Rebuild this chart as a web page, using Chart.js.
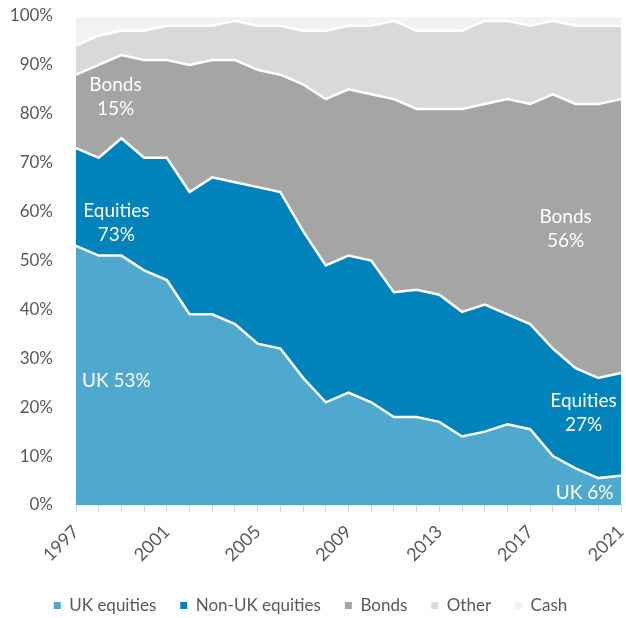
<!DOCTYPE html>
<html>
<head>
<meta charset="utf-8">
<script src="https://cdn.jsdelivr.net/npm/chart.js@4"></script>
<style>
  html, body { margin: 0; padding: 0; background: #fff; }
  #wrap { width: 626px; height: 618px; }
</style>
</head>
<body>
<div id="wrap"><canvas id="grafico"></canvas></div>
<script>
// ---------------------
// Data
// ---------------------
const years = ['1997','1998','1999','2000','2001','2002','2003','2004','2005','2006','2007','2008',
               '2009','2010','2011','2012','2013','2014','2015','2016','2017','2018','2019','2020','2021'];

const ukEquities    = [53, 51, 51, 48, 46, 39, 39, 37, 33, 32, 26, 21, 23, 21, 18, 18, 17, 14, 15, 16.5, 15.5, 10, 7.5, 5.5, 6];
const nonUkEquities = [20, 20, 24, 23, 25, 25, 28, 29, 32, 32, 30, 28, 28, 29, 25.5, 26, 26, 25.5, 26, 22.5, 21.5, 22, 20.5, 20.5, 21];
const bonds         = [15, 19, 17, 20, 20, 26, 24, 25, 24, 24, 30, 34, 34, 34, 39.5, 37, 38, 41.5, 41, 44, 45, 52, 54, 56, 56];
const other         = [6, 6, 5, 6, 7, 8, 7, 8, 9, 10, 11, 14, 13, 14, 16, 16, 16, 16, 17, 16, 16, 15, 16, 16, 15];
const cash          = [6, 4, 3, 3, 2, 2, 2, 1, 2, 2, 3, 3, 2, 2, 1, 3, 3, 3, 1, 1, 2, 1, 2, 2, 2];

const yTicks = [0, 10, 20, 30, 40, 50, 60, 70, 80, 90, 100];

// ---------------------
// In-chart labels (x = year index, y = percent)
// ---------------------
const rotulos = [
    { lines: ['Bonds', '15%'],    x: 1.74,  y: 83.5 },
    { lines: ['Equities', '73%'], x: 1.78,  y: 57.6 },
    { lines: ['UK 53%'],          x: 1.78,  y: 25.4 },
    { lines: ['Bonds', '56%'],    x: 21.56, y: 56.4 },
    { lines: ['Equities', '27%'], x: 22.35, y: 18.75 },
    { lines: ['UK 6%'],           x: 22.4,  y: 2.5 }
];

const CORES = ['#4FA8CD', '#0083BA', '#A5A5A5', '#D9D9D9', '#F2F2F2'];
const TEXTO = '#595959';

const rotulosPlugin = {
    id: 'rotulos',
    afterDatasetsDraw(chart) {
        const { ctx, scales: { x, y } } = chart;
        ctx.save();
        ctx.fillStyle = '#ffffff';
        ctx.font = '19px Lato';
        ctx.textBaseline = 'middle';
        ctx.textAlign = 'center';
        rotulos.forEach(r => {
            const px = x.getPixelForValue(r.x);
            const py = y.getPixelForValue(r.y);
            const lh = 24;
            const top = py - (r.lines.length - 1) * lh / 2;
            r.lines.forEach((t, i) => ctx.fillText(t, px, top + i * lh));
        });
        ctx.restore();
    }
};

// legenda um pouco mais baixa
const legendaPlugin = {
    id: 'legendaAjuste',
    beforeInit(chart) {
        const fitOriginal = chart.legend.fit;
        chart.legend.fit = function () {
            fitOriginal.bind(chart.legend)();
            this.height -= 6;
        };
    }
};

function serie(label, data, cor, fill) {
    return {
        label,
        data,
        backgroundColor: cor,
        borderColor: '#ffffff',
        borderWidth: 2.5,
        fill,
        pointRadius: 0,
        tension: 0
    };
}

new Chart(document.getElementById('grafico').getContext('2d'), {
    type: 'line',
    data: {
        labels: years,
        datasets: [
            serie('UK equities', ukEquities, CORES[0], 'origin'),
            serie('Non-UK equities', nonUkEquities, CORES[1], '-1'),
            serie('Bonds', bonds, CORES[2], '-1'),
            serie('Other', other, CORES[3], '-1'),
            serie('Cash', cash, CORES[4], '-1')
        ]
    },
    options: {
        responsive: true,
        maintainAspectRatio: false,
        animation: false,
        layout: { padding: { left: 0, right: 5, top: 16, bottom: 0 } },
        scales: {
            x: {
                offset: false,
                afterFit: axis => {
                    axis.height = 68;
                    axis.paddingLeft = 0;
                    axis.paddingRight = 0;
                },
                grid: { drawOnChartArea: false, drawTicks: true, tickLength: 7, color: '#D9D9D9' },
                border: { color: '#D9D9D9', width: 1.5 },
                ticks: {
                    autoSkip: false,
                    maxRotation: 45,
                    minRotation: 45,
                    color: TEXTO,
                    font: { family: 'Lato', size: 18 },
                    padding: 9,
                    callback: (v, i) => (i % 4 === 0 ? years[i] : '')
                }
            },
            y: {
                stacked: true,
                min: 0,
                max: 100,
                afterBuildTicks: axis => { axis.ticks = yTicks.map(v => ({ value: v })); },
                afterFit: axis => {
                    axis.width = 76;
                    axis.paddingTop = 0;
                    axis.paddingBottom = 0;
                },
                grid: { display: false },
                border: { display: false },
                ticks: {
                    color: TEXTO,
                    font: { family: 'Lato', size: 17 },
                    padding: 15,
                    callback: v => v + '%'
                }
            }
        },
        plugins: {
            legend: {
                position: 'bottom',
                labels: {
                    color: TEXTO,
                    font: { family: 'Lato', size: 17 },
                    boxWidth: 7,
                    boxHeight: 7,
                    padding: 24,
                    generateLabels: chart => Chart.defaults.plugins.legend.labels.generateLabels(chart)
                        .map(l => ({ ...l, strokeStyle: l.fillStyle, lineWidth: 0 }))
                }
            },
            tooltip: { enabled: false }
        }
    },
    plugins: [rotulosPlugin, legendaPlugin]
});
</script>
</body>
</html>
